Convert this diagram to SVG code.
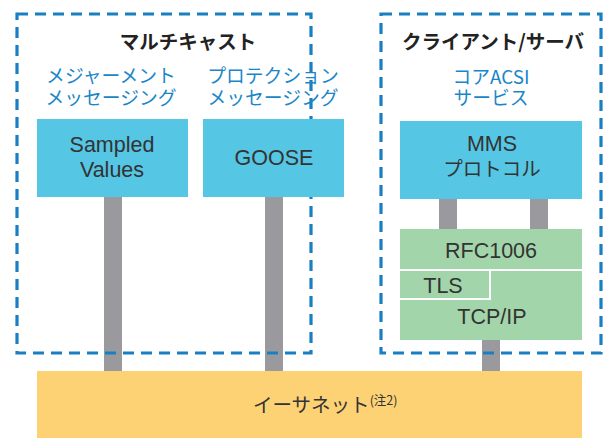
<svg xmlns="http://www.w3.org/2000/svg" width="605" height="438" viewBox="0 0 605 438">
<style>
.jp{font-family:"Noto Sans CJK JP","Liberation Sans",sans-serif}
.lat{font-family:"Liberation Sans","Noto Sans CJK JP",sans-serif}
.title{font-size:19.5px;font-weight:bold;fill:#222}
.sub{font-size:18.8px;fill:#1a86c8}
.lbl{font-size:19.5px;fill:#333}
.lbl2{font-size:21.5px;fill:#333}
.cyan{fill:#55c6e4}
.green{fill:#a3d5ab}
.bar{fill:#9a9a9e}
.dash{fill:none;stroke:#1a7fc1;stroke-width:3.2;stroke-dasharray:11 7}
</style>
<rect width="605" height="438" fill="#fff"/>
<g id="connectors">
<rect class="bar" x="104" y="196" width="18" height="176"/>
<rect class="bar" x="265" y="196" width="18" height="176"/>
<rect class="bar" x="439" y="198" width="18" height="32"/>
<rect class="bar" x="530" y="198" width="18" height="32"/>
<rect class="bar" x="482" y="339" width="18" height="33"/>
</g>
<g id="multicast">
<rect class="dash" x="17" y="14" width="294" height="339"/>
<text class="jp title" x="188" y="49" text-anchor="middle">マルチキャスト</text>
<text class="jp sub" x="111" y="83" text-anchor="middle">メジャーメント</text>
<text class="jp sub" x="111" y="105" text-anchor="middle">メッセージング</text>
<text class="jp sub" x="273" y="83" text-anchor="middle">プロテクション</text>
<text class="jp sub" x="273" y="105" text-anchor="middle">メッセージング</text>
</g>
<g id="clientserver">
<rect class="dash" x="381" y="14" width="220" height="339"/>
<text class="jp title" x="493" y="49" text-anchor="middle">クライアント/サーバ</text>
<text class="jp sub" x="491" y="84" text-anchor="middle">コアACSI</text>
<text class="jp sub" x="491" y="105" text-anchor="middle">サービス</text>
</g>
<g id="sampled-values">
<rect class="cyan" x="37" y="119" width="151" height="78"/>
<text class="lat lbl2" x="112" y="152" text-anchor="middle">Sampled</text>
<text class="lat lbl2" x="112" y="177" text-anchor="middle">Values</text>
</g>
<g id="goose">
<rect class="cyan" x="203" y="119" width="141" height="78"/>
<text class="lat lbl2" x="274" y="165" text-anchor="middle">GOOSE</text>
</g>
<g id="mms">
<rect class="cyan" x="400" y="121" width="182" height="78"/>
<text class="lat lbl2" x="492" y="151" text-anchor="middle">MMS</text>
<text class="jp lbl" x="492" y="176" text-anchor="middle">プロトコル</text>
</g>
<g id="stack">
<rect class="green" x="400" y="229" width="182" height="111"/>
<path d="M400 270H582M490 270V299H400" fill="none" stroke="#fff" stroke-width="2"/>
<text class="lat lbl2" x="491" y="258" text-anchor="middle">RFC1006</text>
<text class="lat lbl2" x="443" y="293" text-anchor="middle">TLS</text>
<text class="lat lbl2" x="492" y="324" text-anchor="middle">TCP/IP</text>
</g>
<g id="ethernet">
<rect x="37" y="371" width="545" height="67" fill="#fcd275"/>
<text class="jp lbl" x="253" y="412">イーサネット<tspan font-size="12.5" dy="-7">(注2)</tspan></text>
</g>
</svg>
